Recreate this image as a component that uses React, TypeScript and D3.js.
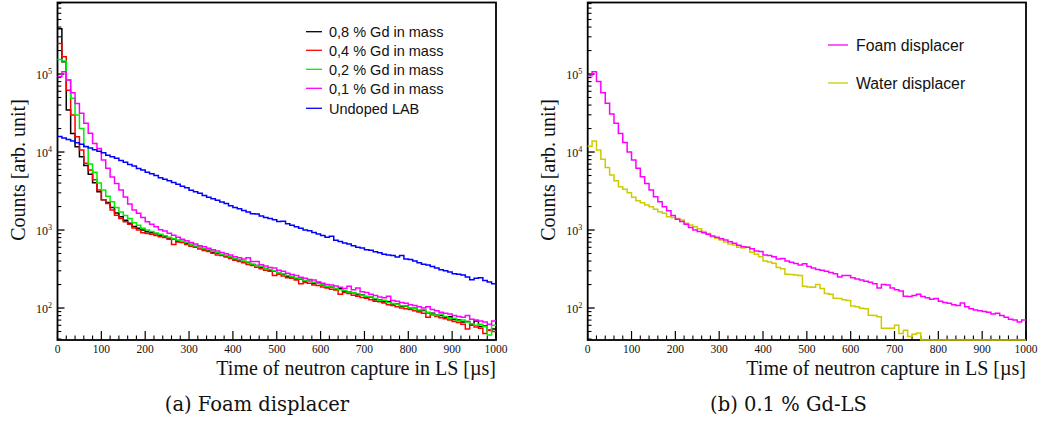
import React from 'react';
import * as d3 from 'd3';

// ---------- data ----------
const BIN_WIDTH = 10; // µs per histogram bin
const X_MAJOR_TICKS = [0, 100, 200, 300, 400, 500, 600, 700, 800, 900, 1000];
const X_MINOR_STEP = 20;
const Y_DECADES = [100, 1000, 10000, 100000];
const Y_EXPONENTS = ['2', '3', '4', '5'];

const gd08 = [
  380000, 144000, 34500, 17300, 11700, 8700, 6700, 5200, 4050, 3100,
  2450, 2250, 1950, 1650, 1480, 1330, 1220, 1110, 1050, 1000,
  950, 925, 895, 860, 835, 790, 765, 720, 712, 670,
  650, 612, 595, 570, 552, 520, 505, 482, 462, 450,
  425, 412, 392, 384, 360, 350, 328, 320, 305, 298,
  280, 272, 255, 252, 238, 236, 222, 221, 206, 212,
  196, 188, 184, 175, 176, 163, 160, 157, 148, 147,
  138, 137, 128, 127, 120, 121, 113, 113, 105, 106,
  99, 99, 92, 93, 87, 86, 81, 80, 76, 77,
  71, 70, 66, 67, 62, 68, 58, 59, 52, 54,
];
const gd04 = [
  247000, 167000, 62000, 29800, 15700, 10600, 7200, 5900, 4400, 3250,
  2450, 2190, 1800, 1550, 1410, 1280, 1190, 1060, 1000, 920,
  900, 880, 850, 820, 800, 760, 650, 700, 690, 650,
  620, 600, 570, 545, 530, 505, 480, 470, 450, 432,
  410, 395, 380, 362, 350, 332, 318, 305, 295, 262,
  270, 258, 245, 240, 228, 205, 212, 208, 198, 195,
  186, 180, 174, 170, 150, 158, 154, 146, 142, 136,
  133, 128, 122, 120, 116, 110, 108, 104, 100, 98,
  96, 92, 89, 86, 76, 82, 78, 75, 73, 70,
  67, 65, 62, 54, 60, 57, 55, 47, 52, 50,
];
const gd02 = [
  154000, 147000, 84000, 49000, 29800, 20000, 11700, 7000, 5500, 4000,
  3250, 2700, 2300, 1950, 1700, 1530, 1400, 1240, 1150, 1050,
  1000, 960, 915, 880, 845, 810, 770, 745, 720, 690,
  655, 625, 600, 580, 560, 535, 510, 490, 470, 455,
  430, 418, 400, 388, 368, 352, 340, 322, 312, 300,
  282, 275, 262, 256, 242, 238, 226, 220, 214, 206,
  198, 190, 186, 178, 172, 168, 160, 158, 152, 146,
  142, 138, 132, 126, 126, 118, 114, 112, 107, 106,
  100, 98, 94, 95, 88, 84, 80, 84, 78, 74,
  74, 68, 70, 66, 63, 60, 62, 58, 45, 60,
];
const gd01 = [
  93000, 107000, 84000, 57500, 42000, 31300, 23300, 17400, 12900, 11100,
  7900, 6200, 4800, 3950, 3250, 2650, 2150, 1800, 1640, 1450,
  1280, 1190, 1100, 1010, 970, 910, 860, 810, 760, 730,
  690, 660, 630, 610, 585, 560, 540, 515, 495, 478,
  455, 440, 425, 440, 395, 395, 360, 345, 330, 325,
  305, 295, 280, 268, 262, 248, 240, 232, 228, 215,
  208, 200, 198, 192, 184, 178, 190, 172, 180, 162,
  158, 150, 145, 138, 135, 142, 125, 122, 118, 115,
  110, 108, 104, 100, 104, 96, 92, 88, 86, 84,
  80, 78, 76, 80, 72, 70, 68, 66, 62, 68,
];
const undopedLAB = [
  15800, 15100, 14450, 13800, 13180, 12590, 11750, 11220, 10720, 10230,
  9770, 9120, 8710, 8320, 7800, 7410, 6920, 6610, 6170, 5890,
  5500, 5250, 5010, 4680, 4470, 4270, 4070, 3850, 3630, 3470,
  3240, 3090, 2950, 2780, 2630, 2510, 2400, 2290, 2190, 2040,
  1950, 1880, 1780, 1700, 1620, 1600, 1510, 1445, 1410, 1350,
  1290, 1300, 1200, 1150, 1100, 1050, 1000, 980, 930, 890,
  850, 810, 830, 740, 710, 680, 660, 630, 600, 590,
  560, 550, 525, 510, 490, 480, 470, 450, 470, 425,
  420, 400, 380, 365, 355, 340, 325, 310, 300, 290,
  275, 270, 265, 250, 230, 240, 245, 225, 215, 205,
];

const foamDisplacer = [
  95000, 107000, 80000, 57700, 42100, 30700, 23300, 17300, 13200, 10000,
  7900, 6200, 4830, 3960, 3250, 2670, 2310, 1990, 1770, 1540,
  1370, 1290, 1190, 1080, 1000, 960, 925, 880, 838, 805,
  774, 745, 709, 675, 640, 611, 600, 576, 540, 530,
  478, 470, 455, 425, 430, 400, 385, 372, 355, 370,
  340, 325, 312, 305, 296, 285, 276, 250, 262, 262,
  245, 236, 228, 220, 214, 205, 180, 200, 198, 180,
  172, 165, 142, 140, 145, 150, 140, 135, 130, 132,
  122, 118, 115, 110, 108, 116, 104, 98, 94, 92,
  90, 88, 84, 86, 80, 76, 72, 70, 66, 70,
];
const waterDisplacer = [
  11900, 13800, 10600, 8100, 6350, 5070, 4290, 3590, 3320, 3010,
  2630, 2380, 2240, 2090, 1990, 1840, 1720, 1640, 1480, 1450,
  1410, 1340, 1220, 1160, 1100, 1040, 960, 900, 822, 782,
  745, 700, 661, 643, 600, 590, 600, 520, 490, 455,
  400, 390, 375, 330, 318, 270, 268, 265, 262, 190,
  186, 185, 200, 178, 154, 150, 133, 132, 128, 125,
  106, 104, 99, 98, 81, 80, 77, 55, 55, 55,
  60, 47, 52, 43, 46, 48, 0, 0, 0, 0,
  0, 0, 0, 0, 0, 0, 0, 0, 0, 0,
  0, 0, 0, 0, 0, 0, 0, 0, 0, 0,
];

const LEFT_LABELS = ['0,8 % Gd in mass', '0,4 % Gd in mass', '0,2 % Gd in mass', '0,1 % Gd in mass', 'Undoped LAB'];
const RIGHT_LABELS = ['Foam displacer', 'Water displacer'];
const X_TITLE = 'Time of neutron capture in LS [µs]';
const Y_TITLE = 'Counts [arb. unit]';
const CAPTION_A = '(a) Foam displacer';
const CAPTION_B = '(b) 0.1 % Gd-LS';

// ---------- layout ----------
const W = 1042;
const H = 423;
const TOP = 2.5;
const BOTTOM = 340;
const Y_MIN = 38.9;
const Y_MAX = 826000;
const SERIF = "'Liberation Serif', 'Times New Roman', serif";
const SANS = "'Liberation Sans', Arial, Helvetica, sans-serif";
const CAPTION_FONT = "'DejaVu Serif', serif";

type Series = { label: string; color: string; values: number[] };

function Panel(props: {
  x0: number;
  x1: number;
  series: Series[];
  drawOrder: number[];
  legend: { lineX0: number; lineX1: number; textX: number; ys: number[]; fontSize: number };
}) {
  const { x0, x1, series, drawOrder, legend } = props;
  const x = d3.scaleLinear().domain([0, 1000]).range([x0, x1]);
  const y = d3.scaleLog().domain([Y_MIN, Y_MAX]).range([BOTTOM, TOP]);

  const minorX = d3.range(0, 1000 + 1, X_MINOR_STEP).filter((v) => v % 100 !== 0);
  const minorY: number[] = [];
  for (let e = 1; e <= 5; e++) {
    for (let k = 2; k <= 9; k++) {
      const v = k * Math.pow(10, e);
      if (v > Y_MIN && v < Y_MAX) minorY.push(v);
    }
  }

  const line = d3
    .line<[number, number]>()
    .x((d) => x(d[0]))
    .y((d) => y(Math.max(d[1], Y_MIN)))
    .curve(d3.curveStepAfter);

  const pathFor = (vals: number[]) => {
    const pts: [number, number][] = vals.map((v, i) => [i * BIN_WIDTH, v]);
    pts.push([vals.length * BIN_WIDTH, vals[vals.length - 1]]);
    return line(pts) || '';
  };

  const axisW = 1.8;
  return (
    <g>
      <rect x={x0} y={TOP} width={x1 - x0} height={BOTTOM - TOP} fill="none" stroke="#000" strokeWidth={axisW} />
      {X_MAJOR_TICKS.map((t) => (
        <line key={'xM' + t} x1={x(t)} x2={x(t)} y1={BOTTOM} y2={BOTTOM - 9} stroke="#000" strokeWidth={1.2} />
      ))}
      {minorX.map((t) => (
        <line key={'xm' + t} x1={x(t)} x2={x(t)} y1={BOTTOM} y2={BOTTOM - 4.6} stroke="#000" strokeWidth={1.1} />
      ))}
      {X_MAJOR_TICKS.map((t) => (
        <text key={'xl' + t} x={x(t)} y={352.5} textAnchor="middle" fontFamily={SERIF} fontSize={11.5} fill="#111">
          {t}
        </text>
      ))}
      {Y_DECADES.map((v) => (
        <line key={'yM' + v} x1={x0} x2={x0 + 7} y1={y(v)} y2={y(v)} stroke="#000" strokeWidth={1.3} />
      ))}
      {minorY.map((v) => (
        <line key={'ym' + v} x1={x0} x2={x0 + 3.8} y1={y(v)} y2={y(v)} stroke="#000" strokeWidth={1.1} />
      ))}
      {Y_DECADES.map((v, i) => (
        <text key={'yl' + v} x={x0 - 5.5} y={y(v) + 4.5} textAnchor="end" fontFamily={SERIF} fontSize={12} fill="#111">
          <tspan>10</tspan>
          <tspan dy={-4.5} fontSize={8}>
            {Y_EXPONENTS[i]}
          </tspan>
        </text>
      ))}
      <text x={x1} y={375} textAnchor="end" fontFamily={SERIF} fontSize={20} fill="#111">
        {X_TITLE}
      </text>
      <text
        transform={`translate(${x0 - 32.5},${170}) rotate(-90)`}
        textAnchor="middle"
        fontFamily={SERIF}
        fontSize={20}
        fill="#111"
      >
        {Y_TITLE}
      </text>
      {drawOrder.map((si) => (
        <path key={'h' + si} d={pathFor(series[si].values)} fill="none" stroke={series[si].color} strokeWidth={1.5} />
      ))}
      {series.map((s, i) => (
        <g key={'lg' + i}>
          <line x1={legend.lineX0} x2={legend.lineX1} y1={legend.ys[i]} y2={legend.ys[i]} stroke={s.color} strokeWidth={1.3} />
          <text x={legend.textX} y={legend.ys[i]} dy="0.36em" fontFamily={SANS} fontSize={legend.fontSize} fill="#111">
            {s.label}
          </text>
        </g>
      ))}
    </g>
  );
}

export default function App() {
  const leftSeries: Series[] = [
    { label: LEFT_LABELS[0], color: '#000000', values: gd08 },
    { label: LEFT_LABELS[1], color: '#ff0000', values: gd04 },
    { label: LEFT_LABELS[2], color: '#00ee00', values: gd02 },
    { label: LEFT_LABELS[3], color: '#ff00ff', values: gd01 },
    { label: LEFT_LABELS[4], color: '#0000ff', values: undopedLAB },
  ];
  const rightSeries: Series[] = [
    { label: RIGHT_LABELS[0], color: '#ff00ff', values: foamDisplacer },
    { label: RIGHT_LABELS[1], color: '#cccc00', values: waterDisplacer },
  ];
  return (
    <svg
      width={W}
      height={H}
      viewBox={`0 0 ${W} ${H}`}
      style={{ position: 'absolute', left: 0, top: 0, background: '#fff' }}
    >
      <rect x={0} y={0} width={W} height={H} fill="#fff" />
      <Panel
        x0={57.5}
        x1={496}
        series={leftSeries}
        drawOrder={[0, 1, 2, 3, 4]}
        legend={{ lineX0: 306, lineX1: 322, textX: 329, ys: [31.7, 50.3, 69.3, 88.3, 108.3], fontSize: 14.5 }}
      />
      <Panel
        x0={587.7}
        x1={1026}
        series={rightSeries}
        drawOrder={[1, 0]}
        legend={{ lineX0: 828, lineX1: 848, textX: 856, ys: [45, 83], fontSize: 15.8 }}
      />
      <text x={257} y={411} textAnchor="middle" fontFamily={CAPTION_FONT} fontSize={19.5} fill="#111">
        {CAPTION_A}
      </text>
      <text x={788.5} y={411} textAnchor="middle" fontFamily={CAPTION_FONT} fontSize={19.5} fill="#111">
        {CAPTION_B}
      </text>
    </svg>
  );
}
